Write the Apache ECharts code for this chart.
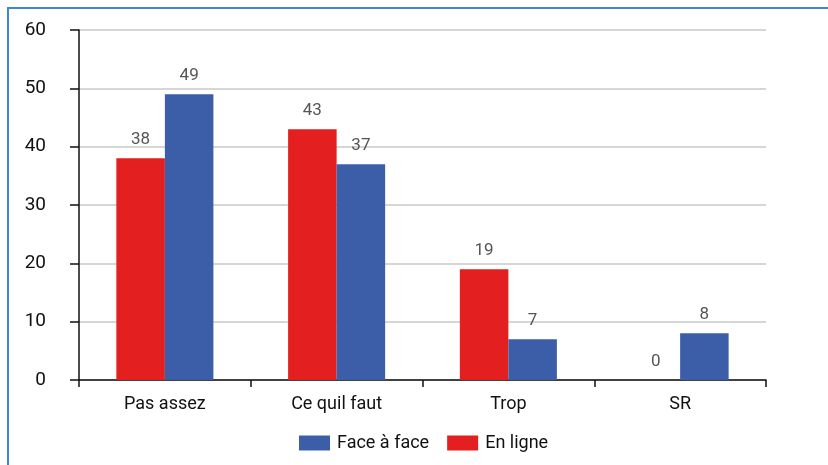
<!DOCTYPE html>
<html><head><meta charset="utf-8">
<script src="https://cdn.jsdelivr.net/npm/echarts@6/dist/echarts.min.js"></script>
<style>
html,body{margin:0;padding:0;background:#fff;}
#frame{position:absolute;left:7px;top:7px;width:830px;height:470px;border-left:2px solid #3d8ad0;border-top:2px solid #3d8ad0;}
#c{position:absolute;left:0;top:0;width:828px;height:465px;}
</style></head>
<body>
<div id="frame"></div>
<div id="c"></div>
<script>
var categories = ['Pas assez', 'Ce quil faut', 'Trop', 'SR'];
var enLigne = [38, 43, 19, 0];
var faceAFace = [49, 37, 7, 8];
var yTicks = [0, 10, 20, 30, 40, 50, 60];

var FONT = "'Roboto', sans-serif";
var chart = echarts.init(document.getElementById('c'));
var lbl = {show: true, position: 'top', distance: 10, color: '#555', fontSize: 17, fontFamily: FONT};
chart.setOption({
  animation: false,
  grid: {left: 79, right: 62, top: 30, bottom: 85},
  legend: {
    data: ['Face à face', 'En ligne'],
    bottom: 8, left: 294,
    itemWidth: 31, itemHeight: 15, itemGap: 18,
    icon: 'rect',
    textStyle: {fontSize: 18, color: '#111', fontFamily: FONT, padding: [0, 0, 0, 2]}
  },
  xAxis: {
    type: 'category', data: categories,
    axisLine: {lineStyle: {color: '#111', width: 1.5}},
    axisTick: {show: true, length: 7, lineStyle: {color: '#111', width: 1.5}},
    axisLabel: {fontSize: 18, color: '#111', margin: 15, fontFamily: FONT}
  },
  yAxis: {
    type: 'value', min: yTicks[0], max: yTicks[yTicks.length - 1], interval: 10,
    axisLine: {show: true, lineStyle: {color: '#111', width: 1.5}},
    axisTick: {show: true, inside: false, length: 9, lineStyle: {color: '#111', width: 1.5}},
    axisLabel: {fontSize: 19, color: '#111', margin: 33, fontFamily: FONT},
    splitLine: {lineStyle: {color: '#c8c8c8', width: 1.5}}
  },
  series: [
    {name: 'En ligne', type: 'bar', data: enLigne, barGap: '0%', barCategoryGap: '43.5%',
     itemStyle: {color: '#e31f1f'}, label: lbl},
    {name: 'Face à face', type: 'bar', data: faceAFace, barGap: '0%', barCategoryGap: '43.5%',
     itemStyle: {color: '#3c5ea8'}, label: lbl}
  ]
});
</script>
</body></html>
